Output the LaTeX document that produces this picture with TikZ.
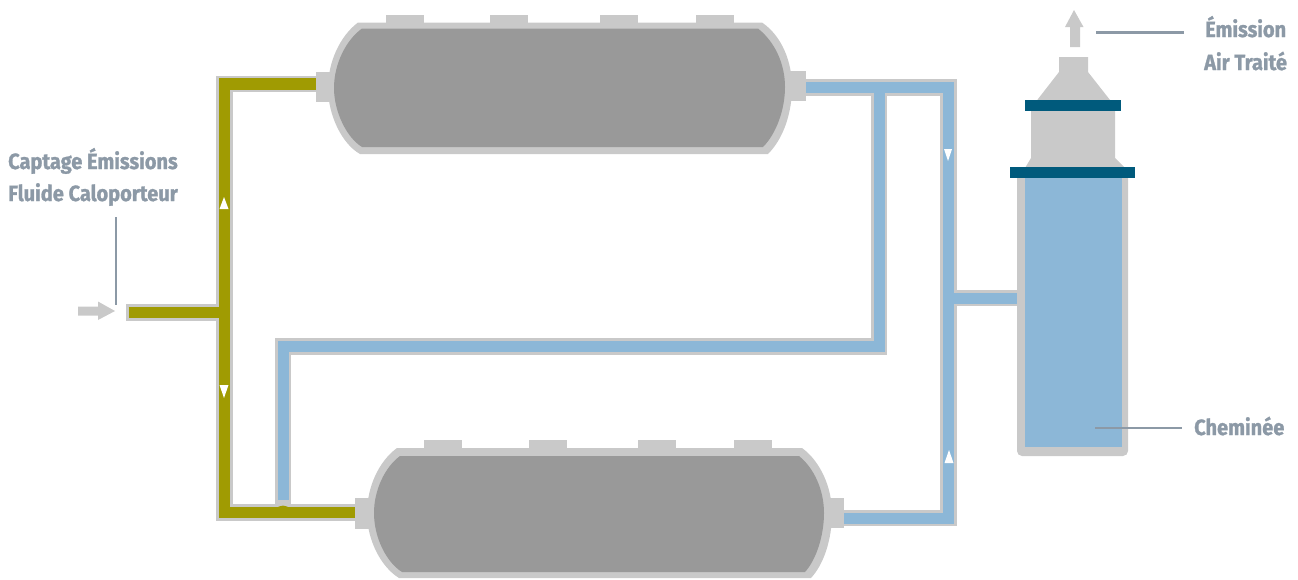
\documentclass[tikz,border=0pt]{standalone}
\usepackage{fontspec}
\setmainfont[BoldFont={Fira Sans Bold},BoldFeatures={FakeStretch=0.91,FakeBold=1.2}]{Fira Sans}
\definecolor{pipegray}{HTML}{C9C9C9}
\definecolor{tankdark}{HTML}{999999}
\definecolor{oliv}{HTML}{A09B02}
\definecolor{skyb}{HTML}{8CB7D7}
\definecolor{navyb}{HTML}{005A7C}
\definecolor{leader}{HTML}{8C99A6}
\tikzset{
  pipeout/.style={draw=pipegray,line width=16.5pt,miter limit=10},
  pipeolive/.style={draw=oliv,line width=11.5pt},
  pipeblue/.style={draw=skyb,line width=11pt},
  graypart/.style={fill=pipegray,draw=none},
  darkpart/.style={fill=tankdark,draw=none},
  band/.style={fill=navyb,draw=none},
  leaderline/.style={draw=leader,line width=2.5pt},
  lbl/.style={anchor=base west,inner sep=0pt,text=leader,font=\fontsize{22}{24}\selectfont\bfseries},
  flowmark/.style={fill=white,draw=none}
}
\begin{document}
\begin{tikzpicture}[x=1pt,y=-1pt]
\useasboundingbox (0,0) rectangle (1298,579);
% pipe junction points
\coordinate (inStart) at (126,312.5);
\coordinate (inCol) at (128.5,312.5);
\coordinate (oJ) at (224.5,312.5);
\coordinate (oT) at (224.5,84);
\coordinate (oTe) at (318,84);
\coordinate (oB) at (224.5,512.5);
\coordinate (oBe) at (357,512.5);
\coordinate (bRb) at (283,504);
\coordinate (bRc) at (283,500);
\coordinate (bC) at (283,346.5);
\coordinate (bM) at (879,346.5);
\coordinate (bMt) at (879,87.5);
\coordinate (tS) at (804,87.5);
\coordinate (tR) at (948.5,87.5);
\coordinate (rB) at (948.5,518);
\coordinate (bS) at (842,518);
\coordinate (rJ) at (948.5,298);
\coordinate (rE) at (1020,298);
% gray sheaths
\draw[pipeout] (inStart) -- (oJ);
\draw[pipeout] (oTe) -- (oT) -- (oB) -- (oBe);
\draw[pipeout] (bRb) -- (bC) -- (bM) -- (bMt);
\draw[pipeout] (tS) -- (tR) -- (rB) -- (bS);
\draw[pipeout] (rJ) -- (rE);
% fluid
\draw[pipeolive] (inCol) -- (oJ);
\draw[pipeolive] (oTe) -- (oT) -- (oB) -- (oBe);
\fill[oliv] (276.5,509) .. controls (278,504.5) and (288,504.5) .. (289.5,509) -- cycle;
\draw[pipeblue] (bRc) -- (bC) -- (bM) -- (bMt);
\draw[pipeblue] (tS) -- (tR) -- (rB) -- (bS);
\draw[pipeblue] (rJ) -- (rE);
% flow marks
\fill[flowmark] (224,197) -- (228.5,209) -- (219.5,209) -- cycle;
\fill[flowmark] (224,398) -- (228.5,385) -- (219.5,385) -- cycle;
\fill[flowmark] (948,161) -- (952,149) -- (944,149) -- cycle;
\fill[flowmark] (949,450) -- (953.5,463) -- (944.5,463) -- cycle;
% top tank
\foreach \xa in {386,490,600,696}{\fill[graypart] (\xa,14.5) rectangle (\xa+37.5,24);}
\fill[graypart] (316,71.5) rectangle (334,101.5);
\fill[graypart] (790,71) rectangle (806,100.5);
\path[graypart] (358,22.5) -- (762,22.5) .. controls (782,36) and (792,62) .. (792,87)
  .. controls (792,112) and (784,138) .. (768,154) -- (360,154)
  .. controls (342,144) and (328,115) .. (328,88) .. controls (328,62) and (340,36) .. (358,22.5) -- cycle;
\path[darkpart] (362,28.5) -- (758,28.5) .. controls (775,42) and (785,64) .. (785,87)
  .. controls (785,110) and (776,134) .. (763,147) -- (362,147)
  .. controls (347,138) and (334,112) .. (334,88) .. controls (334,64) and (346,40) .. (362,28.5) -- cycle;
% bottom tank
\foreach \xa in {424,529,638,734}{\fill[graypart] (\xa,440) rectangle (\xa+38,450);}
\fill[graypart] (355,498) rectangle (372,529);
\fill[graypart] (826,498) rectangle (844,528);
\path[graypart] (397,448) -- (802,448) .. controls (820,461) and (832,487) .. (832,513)
  .. controls (832,539) and (824,564) .. (811,578) -- (399,578)
  .. controls (381,567) and (367,540) .. (367,513) .. controls (367,487) and (379,461) .. (397,448) -- cycle;
\path[darkpart] (400,456) -- (799,456) .. controls (814,468) and (824,490) .. (824,513)
  .. controls (824,536) and (816,560) .. (805,572) -- (402,572)
  .. controls (386,562) and (374,537) .. (374,513) .. controls (374,490) and (385,467) .. (400,456) -- cycle;
% chimney
\path[graypart] (1059,57) -- (1088,57) -- (1088,72) -- (1110,100) -- (1115,110) -- (1115,158) -- (1125,168) -- (1025,168) -- (1031,158) -- (1031,110) -- (1038,99) -- (1059,72) -- cycle;
\path[graypart,rounded corners=5pt] (1017,170) -- (1128,170) -- (1128,456) -- (1017,456) -- cycle;
\fill[skyb] (1025,176) rectangle (1121.5,447);
\fill[band] (1009.5,166.5) rectangle (1134.5,178);
\fill[band] (1025,100) rectangle (1120.5,110.5);
% arrows
\path[graypart] (1074,10) -- (1083.5,27) -- (1080,27) -- (1080,47) -- (1070,47) -- (1070,27) -- (1065,27) -- cycle;
\path[graypart] (115,311) -- (98,320) -- (98,315.5) -- (78,315.5) -- (78,306.5) -- (98,306.5) -- (98,301.5) -- cycle;
% labels and leaders
\node[lbl] (capt) at (8,169) {Captage Émissions};
\node[lbl] (flui) at (8,201) {Fluide Caloporteur};
\node[lbl] (emis) at (1205,37) {Émission};
\node[lbl] (airt) at (1204,70) {Air Traité};
\node[lbl] (chem) at (1194,435) {Cheminée};
\coordinate (la) at (116,217); \coordinate (lb) at (116,305);
\draw[leaderline] (la) -- (lb);
\coordinate (lc) at (1096,32.5); \coordinate (ld) at (1184,32.5);
\draw[leaderline] (lc) -- (ld);
\coordinate (le) at (1095,428); \coordinate (lf) at (1182,428);
\draw[leaderline] (le) -- (lf);
\end{tikzpicture}
\end{document}
